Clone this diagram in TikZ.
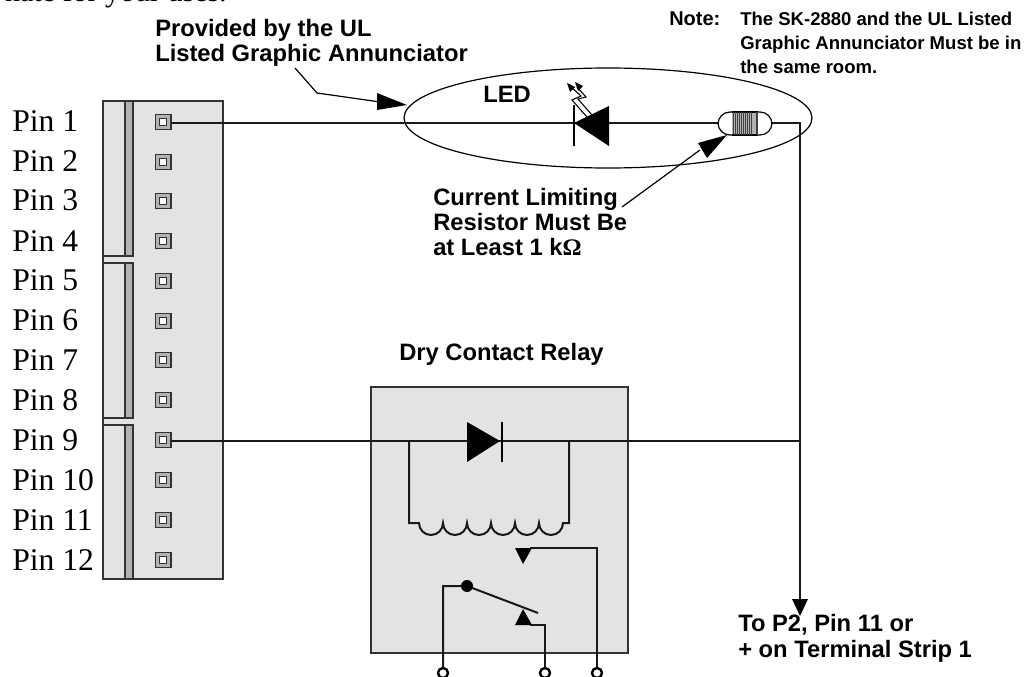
\documentclass[tikz,border=0pt]{standalone}
\usepackage{fontspec}
\setmainfont{Liberation Serif}
\setsansfont{Liberation Sans}
\usetikzlibrary{arrows.meta,shapes.geometric}
\definecolor{panel}{gray}{0.89}
\definecolor{barfill}{gray}{0.7}
\definecolor{edge}{gray}{0.2}
\tikzset{
  x=0.75pt,y=-0.75pt,
  wire/.style={draw=black!90,line width=1.5pt},
  thin wire/.style={draw=black,line width=0.9pt},
  panelbox/.style={draw=edge,line width=1.2pt,fill=panel},
  boldlabel/.style={font=\sffamily\bfseries\fontsize{17.8}{18.8}\selectfont,inner sep=0pt,align=left,anchor=base west},
  notelabel/.style={font=\sffamily\bfseries\fontsize{13.9}{18}\selectfont,inner sep=0pt,align=left,anchor=base west},
  pinlabel/.style={font=\rmfamily\fontsize{23.7}{24}\selectfont,inner sep=0pt,anchor=base west},
  terminal/.style={circle,draw=black,line width=1.8pt,fill=white,minimum size=7.5pt,inner sep=0pt},
}
\begin{document}
\begin{tikzpicture}
\useasboundingbox (0,0) rectangle (1025,677);
\fill[white] (0,0) rectangle (1025,677);
% clipped running text at the top edge
\begin{scope}
\clip (0,0) rectangle (1025,677);
\node[font=\rmfamily\fontsize{22.5}{24}\selectfont,inner sep=0pt,anchor=base east] (toptext) at (227,2) {nate for your uses.};
\end{scope}
% terminal block
\node[panelbox,minimum width=90pt,minimum height=358.5pt,inner sep=0pt,anchor=north west,rectangle] (block) at (102.2,100.2) {};
\foreach \ya/\yb in {101/256,263/418,425/579}{
  \draw[draw=edge,line width=0.9pt] (103,\yb) -- (133,\yb);
  \draw[draw=edge,line width=0.9pt,fill=barfill] (125,\ya) rectangle (133,\yb);
}
\draw[draw=edge,line width=0.9pt] (103,263) -- (133,263) (103,425) -- (133,425);
% pins
\foreach \n/\y/\ty in {1/122/132,2/162/172,3/201/211,4/241/252,5/281/291,6/321/331,7/360/370,8/400/411,9/440/450,10/480/490,11/520/530,12/560/570}{
  \node[pinlabel] (lab\n) at (12,\ty) {Pin \n};
  \draw[draw=edge,line width=1pt,fill=barfill] (155.5,\y-7.5) rectangle (171,\y+7.5);
  \draw[draw=edge,line width=0.7pt,fill=white] (159.5,\y-3.5) rectangle (166.5,\y+3.5);
}
\coordinate (pin1) at (171,123);
\coordinate (pin9) at (171,441);
% relay box
\node[panelbox,rectangle,minimum width=192.75pt,minimum height=199.5pt,inner sep=0pt,anchor=north west] (relay) at (370.2,386.2) {};
% corner coordinates
\coordinate (corner) at (800,123);
\coordinate (join) at (800,441);
\coordinate (arrowend) at (800,616);
% ellipse
\node[draw=black,line width=0.9pt,ellipse,minimum width=306pt,minimum height=75pt,inner sep=0pt] (ring) at (608,118) {};
% wires
\draw[wire] (pin1) -- (718,123);
\draw[wire] (772,123) -- (corner) -- (800,600);
\draw[wire] (pin9) -- (join);
\fill[black] (792,599) -- (808,599) -- (arrowend) -- cycle;
% LED
\fill[black] (609,106) -- (609,146) -- (574,123) -- cycle;
\draw[line width=1.5pt] (574,105) -- (574,146);
\draw[line width=0.8pt] (592,115) -- (578,99) -- (586,97) -- (577,87);
\draw[line width=0.8pt] (587,117) -- (572,100) -- (581,96) -- (571,87);
\fill[black] (567,83) -- (575,87) -- (570,92) -- cycle;
\fill[black] (575,82) -- (583,86) -- (578,91) -- cycle;
% resistor
\draw[line width=0.9pt,fill=white,rounded corners=9pt] (718,112) rectangle (772,135);
\fill[barfill] (732,112) rectangle (758,135);
\draw[line width=0.9pt] (732,112) -- (758,112) (732,135) -- (758,135);
\foreach \xx in {733,735,737,739,741,743,745,747,749,751,756,757}{
  \draw[line width=0.7pt,draw=black!75] (\xx,112) -- (\xx,135);
}
% pointers
\draw[thin wire] (295,68) -- (317,93) -- (380,102);
\fill[black] (407,105) -- (377,93) -- (377,110) -- cycle;
\draw[thin wire] (622,207) -- (700,150);
\fill[black] (727,135) -- (698,143) -- (707,158) -- cycle;
% diode
\fill[black] (467,422) -- (467,462) -- (500,441) -- cycle;
\draw[line width=1.5pt] (502,422) -- (502,462);
% coil
\draw[wire] (409,441) -- (409,523) -- (419,523)
  arc[start angle=180,end angle=360,x radius=12,y radius=-12]
  arc[start angle=180,end angle=360,x radius=12,y radius=-12]
  arc[start angle=180,end angle=360,x radius=12,y radius=-12]
  arc[start angle=180,end angle=360,x radius=12,y radius=-12]
  arc[start angle=180,end angle=360,x radius=12,y radius=-12]
  arc[start angle=180,end angle=360,x radius=12,y radius=-12]
  -- (569,523) -- (569,441);
% contacts
\node[terminal] (ta) at (443,673) {};
\node[terminal] (tb) at (545,673) {};
\node[terminal] (tc) at (597,673) {};
\coordinate (dot) at (467,586);
\draw[wire] (ta) -- (443,586) -- (dot) -- (538,613);
\fill[black] (dot) circle[radius=6];
\draw[wire] (tb) -- (545,625) -- (530,625);
\fill[black] (523,609) -- (515,625) -- (532,625) -- cycle;
\draw[wire] (tc) -- (597,548) -- (530,548);
\fill[black] (515,548) -- (532,548) -- (523,564) -- cycle;
% labels
\node[boldlabel] (provided) at (155,62) {Provided by the UL\\Listed Graphic Annunciator};
\node[boldlabel] (ledlab) at (483,103) {LED};
\node[boldlabel] (limit) at (433,256) {Current Limiting\\Resistor Must Be\\at Least 1 k{\rmfamily Ω}};
\node[boldlabel] (dry) at (399,360) {Dry Contact Relay};
\node[boldlabel] (dest) at (738,657) {To P2, Pin 11 or\\+ on Terminal Strip 1};
\node[notelabel,font=\sffamily\bfseries\fontsize{15}{18}\selectfont] (notehead) at (669,26) {Note:};
\node[notelabel] (notebody) at (740,74) {The SK-2880 and the UL Listed\\Graphic Annunciator Must be in\\the same room.};
\end{tikzpicture}
\end{document}
